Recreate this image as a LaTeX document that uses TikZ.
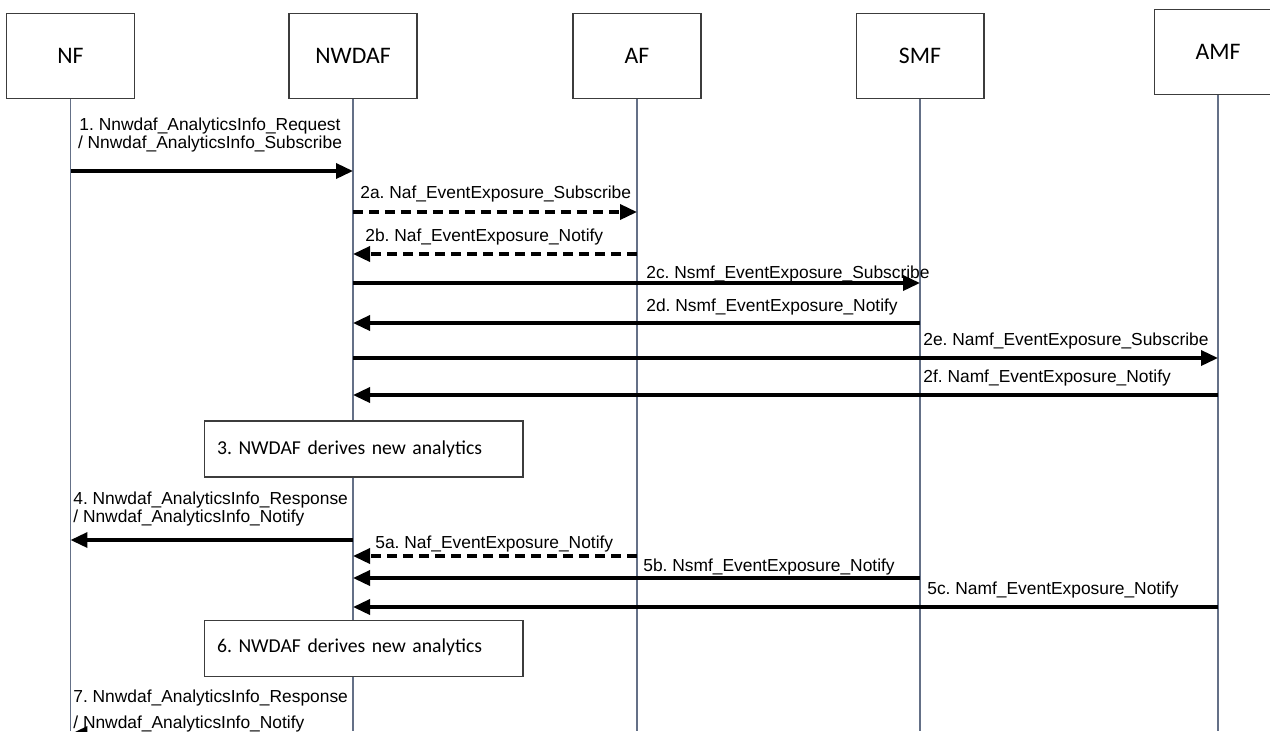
\documentclass[tikz,border=0pt]{standalone}
\usepackage{fontspec}
\setmainfont{Liberation Sans}
\newfontfamily\calibri{Carlito}
\usetikzlibrary{arrows.meta}
\frenchspacing

\definecolor{boxgray}{RGB}{60,60,60}
\definecolor{lifeblue}{RGB}{100,112,135}

\begin{document}
\begin{tikzpicture}[
  x=0.02cm, y=-0.02cm,
  box/.style={draw=boxgray, fill=white, line width=0.6pt, minimum width=2.56cm, minimum height=1.7cm, font=\calibri\fontsize{13.5}{16}\selectfont},
  note/.style={draw=boxgray, fill=white, line width=0.6pt, minimum height=1.12cm, text width=5.86cm, inner xsep=0.26cm, align=left, font=\calibri\fontsize{11.2}{13}\selectfont},
  life/.style={draw=lifeblue, line width=0.6pt},
  arr/.style={-{Triangle[length=0.34cm,width=0.3cm]}, line width=2pt},
  dasharr/.style={arr, dash pattern=on 0.2cm off 0.12cm},
  lbl/.style={inner sep=0pt, anchor=west, font=\fontsize{9.9}{10.4}\selectfont}
]
\clip (0,0) rectangle (1270,731);
\useasboundingbox (0,0) rectangle (1270,731);

% Entities
\node[box] (nf)    at (70.5,56) {NF};
\node[box] (nwdaf) at (353,56)  {NWDAF};
\node[box] (af)    at (637,56)  {AF};
\node[box] (smf)   at (920,56)  {SMF};
\node[box] (amf)   at (1218,52) {AMF};

% Lifelines
\coordinate (bottom) at (0,731);
\draw[life] (nf.south)    -- (nf |- bottom);
\draw[life] (nwdaf.south) -- (nwdaf |- bottom);
\draw[life] (af.south)    -- (af |- bottom);
\draw[life] (smf.south)   -- (smf |- bottom);
\draw[life] (amf.south)   -- (amf |- bottom);

% 1. request / subscribe
\node[lbl, anchor=center, align=center] (l1) at (210,135)
  {1. Nnwdaf\_AnalyticsInfo\_Request\\/ Nnwdaf\_AnalyticsInfo\_Subscribe};
\draw[arr] (nf |- 0,171) -- (nwdaf |- 0,171);

% 2a-2f. event exposure
\node[lbl] (l2a) at (360,194) {2a. Naf\_EventExposure\_Subscribe};
\draw[dasharr] (nwdaf |- 0,212) -- (af |- 0,212);
\node[lbl] (l2b) at (365,237) {2b. Naf\_EventExposure\_Notify};
\draw[dasharr] (af |- 0,254) -- (nwdaf |- 0,254);
\node[lbl] (l2c) at (646,274) {2c. Nsmf\_EventExposure\_Subscribe};
\draw[arr] (nwdaf |- 0,283) -- (smf |- 0,283);
\node[lbl] (l2d) at (646,307) {2d. Nsmf\_EventExposure\_Notify};
\draw[arr] (smf |- 0,323) -- (nwdaf |- 0,323);
\node[lbl] (l2e) at (923,341) {2e. Namf\_EventExposure\_Subscribe};
\draw[arr] (nwdaf |- 0,358) -- (amf |- 0,358);
\node[lbl] (l2f) at (923,378) {2f. Namf\_EventExposure\_Notify};
\draw[arr] (amf |- 0,395) -- (nwdaf |- 0,395);

% 3. analytics
\node[note] (derive1) at (363.5,449) {3. NWDAF derives new analytics};

% 4. response / notify
\node[lbl, align=left] (l4) at (73,509)
  {4. Nnwdaf\_AnalyticsInfo\_Response\\/ Nnwdaf\_AnalyticsInfo\_Notify};
\draw[arr] (nwdaf |- 0,540) -- (nf |- 0,540);

% 5a-5c. notifications
\node[lbl] (l5a) at (375,544) {5a. Naf\_EventExposure\_Notify};
\draw[dasharr] (af |- 0,556) -- (nwdaf |- 0,556);
\node[lbl] (l5b) at (643,567) {5b. Nsmf\_EventExposure\_Notify};
\draw[arr] (smf |- 0,578) -- (nwdaf |- 0,578);
\node[lbl] (l5c) at (927,590) {5c. Namf\_EventExposure\_Notify};
\draw[arr] (amf |- 0,607) -- (nwdaf |- 0,607);

% 6. analytics again
\node[note] (derive2) at (363.5,648.5) {\raisebox{0.13cm}{6. NWDAF derives new analytics}};

% 7. response / notify
\node[lbl, align=left] (l7) at (73,711)
  {7. Nnwdaf\_AnalyticsInfo\_Response\\[0.14cm]/ Nnwdaf\_AnalyticsInfo\_Notify};
\draw[arr] (nwdaf |- 0,734) -- (nf |- 0,734);

\end{tikzpicture}
\end{document}
